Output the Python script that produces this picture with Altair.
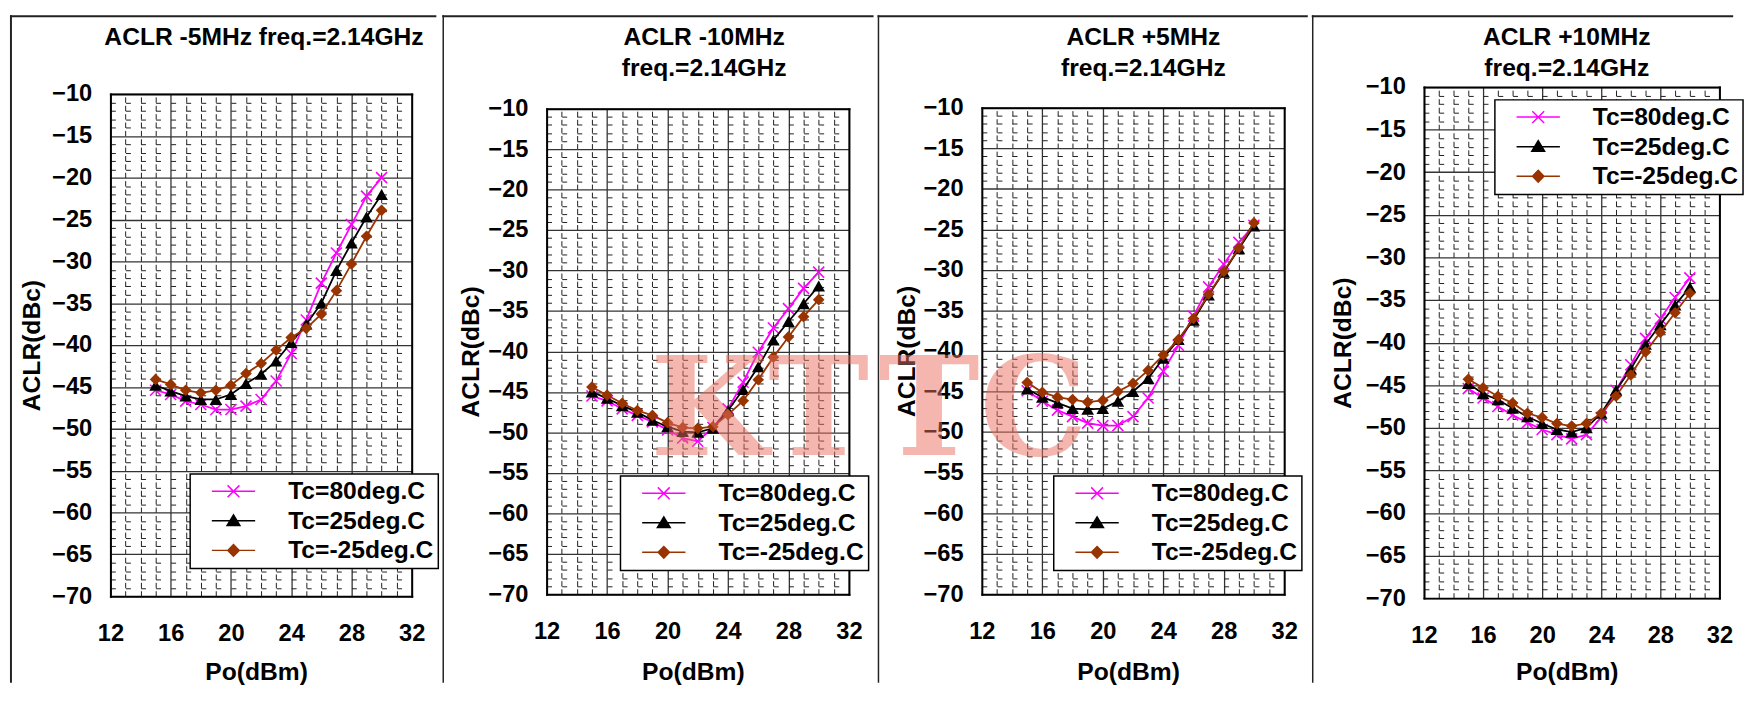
import altair as alt
import pandas as pd

# ---------------- data ----------------
po_dbm = [15, 16, 17, 18, 19, 20, 21, 22, 23, 24, 25, 26, 27, 28, 29, 30]
series_labels = ["Tc=80deg.C", "Tc=25deg.C", "Tc=-25deg.C"]

panel_titles = [
    ["ACLR -5MHz freq.=2.14GHz"],
    ["ACLR -10MHz", "freq.=2.14GHz"],
    ["ACLR +5MHz", "freq.=2.14GHz"],
    ["ACLR +10MHz", "freq.=2.14GHz"],
]

# ACLR -5MHz
aclr_m5_80 = [-45.4, -45.9, -46.7, -47.1, -47.7, -47.7, -47.3, -46.5, -44.3, -41.0, -37.0, -32.6, -29.0, -25.6, -22.2, -20.0]
aclr_m5_25 = [-44.8, -45.5, -46.1, -46.5, -46.5, -45.9, -44.6, -43.5, -41.9, -39.7, -37.5, -35.0, -31.1, -27.8, -24.7, -22.0]
aclr_m5_m25 = [-44.1, -44.7, -45.4, -45.7, -45.4, -44.8, -43.4, -42.2, -40.6, -39.1, -38.0, -36.3, -33.5, -30.3, -27.0, -23.9]
# ACLR -10MHz
aclr_m10_80 = [-45.5, -46.1, -47.1, -47.9, -48.7, -49.7, -50.7, -51.1, -49.4, -47.1, -43.8, -40.1, -37.1, -34.7, -32.2, -30.2]
aclr_m10_25 = [-45.0, -45.8, -46.7, -47.5, -48.5, -49.3, -49.9, -50.0, -49.5, -47.3, -44.7, -41.9, -38.6, -36.3, -34.1, -31.9]
aclr_m10_m25 = [-44.4, -45.4, -46.4, -47.3, -47.9, -48.8, -49.4, -49.5, -49.3, -47.8, -46.1, -43.5, -40.7, -38.2, -35.7, -33.6]
# ACLR +5MHz
aclr_p5_80 = [-44.9, -46.2, -47.3, -48.1, -48.9, -49.2, -49.2, -48.1, -45.8, -42.5, -39.3, -35.7, -32.1, -29.3, -26.6, -24.5]
aclr_p5_25 = [-44.7, -45.7, -46.4, -47.1, -47.2, -47.1, -46.2, -45.0, -43.4, -40.9, -38.6, -36.2, -33.1, -30.3, -27.4, -24.6]
aclr_p5_m25 = [-43.9, -45.1, -45.7, -46.0, -46.3, -46.1, -45.0, -44.0, -42.4, -40.5, -38.6, -36.0, -33.0, -30.2, -27.3, -24.2]
# ACLR +10MHz
aclr_p10_80 = [-45.4, -46.5, -47.5, -48.5, -49.4, -50.2, -50.8, -51.3, -50.8, -48.8, -45.6, -42.6, -39.5, -37.2, -34.7, -32.4]
aclr_p10_25 = [-44.8, -46.0, -46.7, -47.7, -48.7, -49.5, -50.2, -50.5, -50.0, -48.3, -45.6, -43.1, -40.2, -37.9, -35.6, -33.5]
aclr_p10_m25 = [-44.3, -45.3, -46.3, -47.1, -48.3, -48.8, -49.5, -49.8, -49.5, -48.3, -46.3, -43.8, -41.1, -38.8, -36.5, -34.2]

panel_values = [
    [aclr_m5_80, aclr_m5_25, aclr_m5_m25],
    [aclr_m10_80, aclr_m10_25, aclr_m10_m25],
    [aclr_p5_80, aclr_p5_25, aclr_p5_m25],
    [aclr_p10_80, aclr_p10_25, aclr_p10_m25],
]

x_tick_labels = [12, 16, 20, 24, 28, 32]
y_tick_labels = [-10, -15, -20, -25, -30, -35, -40, -45, -50, -55, -60, -65, -70]
x_axis_title = "Po(dBm)"
y_axis_title = "ACLR(dBc)"
watermark_parts = {1: "KT", 2: "TC"}

# ---------------- styles / layout ----------------
FONT = "Liberation Sans"
COLORS = ["#FF00FF", "#000000", "#993300"]
MARKERS = ["M-1,-1L1,1M-1,1L1,-1", "triangle-up", "diamond"]
MARKER_FILLED = [False, True, True]
MARKER_SIZE = [125, 165, 140]
# legend symbol = short line with the marker in the middle (size 400 -> unit = 10 px)
LEGEND_PATHS = [
    "M-2.2,0L2.2,0M-0.6,-0.6L0.6,0.6M-0.6,0.6L0.6,-0.6",
    "M-2.2,0L2.2,0M0,-0.6L0.65,0.48L-0.65,0.48Z",
    "M-2.2,0L2.2,0M0,-0.6L0.58,0L0,0.6L-0.58,0Z",
]
LEGEND_SYMBOL_SIZE = 400

PAGE_TOP = 8
PAGE_BOTTOM = 686
VIEW_TOP = 81      # page y of the common view top
VIEW_BOTTOM = 600  # page y of the common view bottom
TITLE_BASELINES = [38, 70]

LAYOUT = [
    dict(pl=110, pt=88, pb=598, w=306, cl=8, cr=441, tx=266, lx=81, ly=474, fw=2, ytx=-67),
    dict(pl=547, pt=103, pb=596, w=307, cl=441, cr=879, tx=707, lx=75, ly=476, fw=1.5, ytx=-64),
    dict(pl=985, pt=102, pb=596, w=307, cl=879, cr=1316, tx=1149, lx=73, ly=476, fw=1.5, ytx=-63),
    dict(pl=1430, pt=81, pb=600, w=300, cl=1316, cr=1744, tx=1575, lx=72, ly=94, fw=1.5, ytx=-70),
]
WATERMARK_X = {1: 652, 2: 880}
WATERMARK_BASE = 455
NBSP2 = "\u00a0\u00a0"

GRID_MAJOR = "#333333"
GRID_MINOR = "#1e1e1e"
LABEL_STYLE = dict(labelFont=FONT, labelFontSize=24, labelFontWeight="bold", labelColor="black")
TITLE_STYLE = dict(titleFont=FONT, titleFontSize=25, titleFontWeight="bold", titleColor="black")
DOMAIN_STYLE = dict(domain=True, domainColor="black", domainWidth=2, domainCap="square",
                    minExtent=0, maxExtent=200)


def x_bottom_axis(L):
    return alt.Axis(
        orient="bottom", values=x_tick_labels, grid=False, ticks=False, **DOMAIN_STYLE,
        offset=L["pb"] - VIEW_BOTTOM,
        labelPadding=45, labelBaseline="alphabetic", labelFlush=False, labelOverlap=False,
        **LABEL_STYLE,
        title=x_axis_title, **TITLE_STYLE, titleBaseline="alphabetic",
        titleX=L["w"] / 2 - 5, titleY=683 - L["pb"],
    )


def x_top_axis(L):
    ystep = (L["pb"] - L["pt"]) / 60.0
    major = "indexof(%s, datum.value) >= 0" % x_tick_labels
    return alt.Axis(
        orient="top", values=list(range(12, 33)), labels=False, ticks=False, title=None,
        **DOMAIN_STYLE, offset=-(L["pt"] - VIEW_TOP),
        grid=True,
        gridColor={"condition": {"test": major, "value": GRID_MAJOR}, "value": GRID_MINOR},
        gridDash={"condition": {"test": major, "value": []}, "value": [5.5, round(ystep - 5.5, 2)]},
        gridWidth={"condition": {"test": major, "value": 1.3}, "value": 1},
    )


def y_left_axis(L):
    xstep = L["w"] / 20.0
    major = "indexof(%s, datum.value) >= 0" % y_tick_labels
    return alt.Axis(
        orient="left", values=list(range(-70, -9)),
        labelExpr="%s ? datum.label : ''" % major,
        grid=True,
        gridColor={"condition": {"test": major, "value": GRID_MAJOR}, "value": GRID_MINOR},
        gridDash={"condition": {"test": major, "value": []}, "value": [5, round(xstep - 5, 2)]},
        gridWidth={"condition": {"test": major, "value": 1.3}, "value": 1},
        ticks=False, **DOMAIN_STYLE,
        labelPadding=19, labelOverlap=False, **LABEL_STYLE,
        title=y_axis_title, **TITLE_STYLE, titleBaseline="bottom",
        titleX=L["ytx"], titleY=(L["pt"] + L["pb"]) / 2 - VIEW_TOP,
    )


def y_right_axis(L):
    return alt.Axis(orient="right", values=y_tick_labels, labels=False, ticks=False,
                    grid=False, title=None, **DOMAIN_STYLE)


def build_panel(i):
    L = LAYOUT[i]
    rows = []
    for s_label, vals in zip(series_labels, panel_values[i]):
        for p, v in zip(po_dbm, vals):
            rows.append({"po": p, "aclr": v, "series": s_label})
    df = pd.DataFrame(rows)
    one = pd.DataFrame({"k": [0]})

    x_scale = alt.Scale(domain=[12, 32], nice=False, zero=False)
    y_scale = alt.Scale(domain=[-70, -10], range=[L["pb"] - VIEW_TOP, L["pt"] - VIEW_TOP],
                        nice=False, zero=False)

    def xe(axis):
        return alt.X("po:Q", scale=x_scale, axis=axis)

    def ye(axis):
        return alt.Y("aclr:Q", scale=y_scale, axis=axis)

    rl = L["cl"] - L["pl"]
    rr = L["cr"] - L["pl"]
    rt = PAGE_TOP - VIEW_TOP
    rb = PAGE_BOTTOM - VIEW_TOP

    layers = []
    # invisible cell extent (keeps the panels where the reference has them)
    layers.append(alt.Chart(one).mark_rect(opacity=0).encode(
        x=alt.value(rl), x2=alt.value(rr), y=alt.value(rt), y2=alt.value(rb)))
    # panel frame (left + top)
    layers.append(alt.Chart(one).mark_rule(color="#222222", strokeWidth=L["fw"]).encode(
        x=alt.value(rl + 1), y=alt.value(rt), y2=alt.value(rb)))
    layers.append(alt.Chart(one).mark_rule(color="#222222", strokeWidth=2).encode(
        x=alt.value(rl), x2=alt.value(rr), y=alt.value(rt + 1)))
    # title lines
    for k, line in enumerate(panel_titles[i]):
        layers.append(alt.Chart(one).mark_text(
            text=line, font=FONT, fontSize=25, fontWeight="bold", color="black",
            align="center", baseline="alphabetic").encode(
            x=alt.value(L["tx"] - L["pl"]), y=alt.value(TITLE_BASELINES[k] - VIEW_TOP)))

    # series
    for j, s_label in enumerate(series_labels):
        sub = alt.Chart(df).transform_filter(alt.datum.series == s_label)
        if j == 0:
            lx_axis, ly_axis = x_bottom_axis(L), y_left_axis(L)
            px_axis, py_axis = x_top_axis(L), y_right_axis(L)
        else:
            lx_axis = ly_axis = px_axis = py_axis = None
        layers.append(sub.mark_line(color=COLORS[j], strokeWidth=1.8).encode(
            x=xe(lx_axis), y=ye(ly_axis)))
        layers.append(sub.mark_point(
            shape=MARKERS[j], size=MARKER_SIZE[j], filled=MARKER_FILLED[j],
            color=COLORS[j], opacity=1, strokeWidth=1.6).encode(x=xe(px_axis), y=ye(py_axis)))

    # legend (line + marker symbols)
    leg = alt.Legend(
        orient="none", legendX=L["lx"], legendY=L["ly"] - VIEW_TOP, title=None,
        direction="vertical", strokeColor="black", fillColor="white", padding=5, rowPadding=4,
        symbolSize=LEGEND_SYMBOL_SIZE, symbolStrokeWidth=1.5, symbolOffset=26.5, labelOffset=43,
        labelFont=FONT, labelFontSize=25, labelFontWeight="bold", labelColor="black",
        labelLimit=400, labelExpr="datum.label + '%s'" % NBSP2,
    )
    layers.append(alt.Chart(df).transform_filter("false").mark_point(
        filled=True, opacity=1, strokeWidth=1.5, size=LEGEND_SYMBOL_SIZE).encode(
        shape=alt.Shape("series:N", scale=alt.Scale(domain=series_labels, range=LEGEND_PATHS), legend=leg),
        fill=alt.Fill("series:N", scale=alt.Scale(domain=series_labels, range=COLORS), legend=leg),
        stroke=alt.Stroke("series:N", scale=alt.Scale(domain=series_labels, range=COLORS), legend=leg),
    ))

    # watermark
    if i in watermark_parts:
        layers.append(alt.Chart(one).mark_text(
            text=watermark_parts[i], font="DejaVu Serif", fontSize=138, fontWeight="bold",
            color="#ea7060", opacity=0.5, align="left", baseline="alphabetic").encode(
            x=alt.value(WATERMARK_X[i] - L["pl"]), y=alt.value(WATERMARK_BASE - VIEW_TOP)))

    return (alt.layer(*layers)
            .resolve_axis(x="independent", y="independent")
            .properties(width=L["w"], height=VIEW_BOTTOM - VIEW_TOP))


panels = [build_panel(i) for i in range(4)]

chart = (
    alt.hconcat(*panels, spacing=0)
    .resolve_scale(x="independent", y="independent", shape="independent",
                   fill="independent", stroke="independent")
    .properties(padding={"left": 0, "top": 0, "right": 0, "bottom": 0}, background="white")
    .configure_view(stroke="transparent", fill="white")
    .configure_legend(strokeWidth=1.5)
)

chart.save("out.html", embed_options={"renderer": "svg", "actions": False})
